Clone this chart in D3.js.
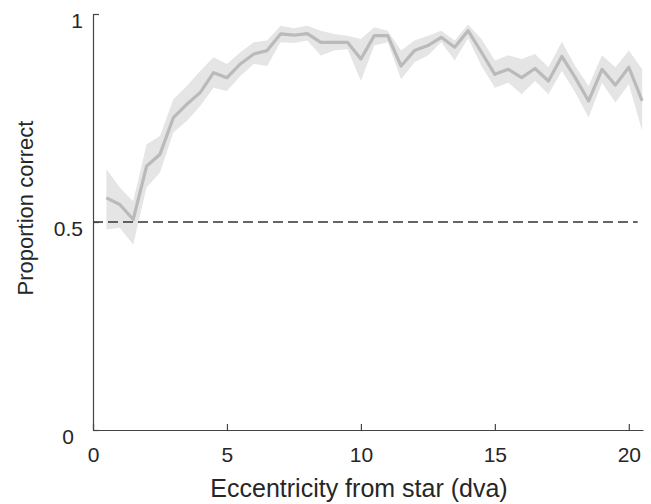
<!DOCTYPE html>
<html lang="en">

<head>
    <meta charset="utf-8">
    <title>Proportion correct vs eccentricity</title>

    <script src="https://d3js.org/d3.v7.min.js"></script>

    <style>
        body {
            margin: 0;
            background: #fff;
        }

        #chart text {
            font-family: "Liberation Sans", Arial, Helvetica, sans-serif;
            fill: #262626;
        }

        .axis path,
        .axis line {
            stroke: #444;
            stroke-width: 1.2;
        }
    </style>
</head>

<body>

    <svg id="chart"></svg>

    <script type="text/javascript">
        var width = 651;
        var height = 504;

        // eccentricity (dva)
        var ecc = [0.5, 1.0, 1.5, 2.0, 2.5, 3.0, 3.5, 4.0, 4.5, 5.0,
            5.5, 6.0, 6.5, 7.0, 7.5, 8.0, 8.5, 9.0, 9.5, 10.0,
            10.5, 11.0, 11.5, 12.0, 12.5, 13.0, 13.5, 14.0, 14.5, 15.0,
            15.5, 16.0, 16.5, 17.0, 17.5, 18.0, 18.5, 19.0, 19.5, 20.0, 20.5];

        // mean proportion correct
        var meanCorrect = [0.558, 0.542, 0.506, 0.634, 0.663, 0.751, 0.783, 0.811, 0.859, 0.847,
            0.880, 0.904, 0.912, 0.952, 0.949, 0.953, 0.932, 0.932, 0.932, 0.892,
            0.948, 0.948, 0.875, 0.912, 0.924, 0.944, 0.920, 0.960, 0.908, 0.855,
            0.867, 0.847, 0.869, 0.839, 0.898, 0.847, 0.791, 0.867, 0.829, 0.872, 0.791];

        // error band
        var upper = [0.627, 0.583, 0.550, 0.687, 0.707, 0.795, 0.827, 0.863, 0.896, 0.880,
            0.908, 0.932, 0.936, 0.972, 0.966, 0.972, 0.960, 0.952, 0.948, 0.940,
            0.968, 0.960, 0.912, 0.936, 0.948, 0.960, 0.936, 0.975, 0.940, 0.888,
            0.901, 0.892, 0.904, 0.872, 0.933, 0.875, 0.827, 0.901, 0.872, 0.912, 0.867];
        var lower = [0.482, 0.486, 0.446, 0.583, 0.619, 0.715, 0.743, 0.779, 0.823, 0.815,
            0.851, 0.880, 0.875, 0.932, 0.930, 0.936, 0.900, 0.912, 0.916, 0.839,
            0.924, 0.932, 0.843, 0.884, 0.900, 0.932, 0.888, 0.942, 0.875, 0.823,
            0.835, 0.807, 0.839, 0.807, 0.863, 0.811, 0.751, 0.835, 0.787, 0.831, 0.719];

        var xTicks = [0, 5, 10, 15, 20];
        var yTicks = [0, 0.5, 1];
        var chance = 0.5;

        var svg = d3.select("#chart")
            .attr("width", width)
            .attr("height", height);

        var xScale = d3.scaleLinear()
            .domain([0, 20.53])
            .range([93, 643]);

        var yScale = d3.scaleLinear()
            .domain([0, 1])
            .range([430, 14]);

        var data = ecc.map(function(x, i) {
            return { x: x, m: meanCorrect[i], lo: lower[i], hi: upper[i] };
        });

        // shaded band
        var area = d3.area()
            .x(function(d) { return xScale(d.x); })
            .y0(function(d) { return yScale(d.lo); })
            .y1(function(d) { return yScale(d.hi); });

        svg.append("path")
            .datum(data)
            .attr("d", area)
            .attr("fill", "#e5e5e5");

        // mean line
        var line = d3.line()
            .x(function(d) { return xScale(d.x); })
            .y(function(d) { return yScale(d.m); });

        svg.append("path")
            .datum(data)
            .attr("d", line)
            .attr("fill", "none")
            .attr("stroke", "#bababa")
            .attr("stroke-width", 3.2)
            .attr("stroke-linejoin", "round");

        // chance level
        svg.append("line")
            .attr("x1", xScale(0))
            .attr("x2", xScale(20.33))
            .attr("y1", yScale(chance))
            .attr("y2", yScale(chance))
            .attr("stroke", "#333")
            .attr("stroke-width", 1.5)
            .attr("stroke-dasharray", "10,5");

        // axes (ticks pointing inward)
        var xAxis = d3.axisBottom(xScale)
            .tickValues(xTicks)
            .tickFormat(d3.format("d"))
            .tickSizeInner(-6)
            .tickSizeOuter(0)
            .tickPadding(14);

        var yAxis = d3.axisLeft(yScale)
            .tickValues(yTicks)
            .tickFormat(function(d) { return d === 0.5 ? "0.5" : d3.format("d")(d); })
            .tickSizeInner(-6)
            .tickSizeOuter(0)
            .tickPadding(10);

        var gx = svg.append("g")
            .attr("class", "axis")
            .attr("transform", "translate(0," + yScale(0) + ")")
            .call(xAxis);

        gx.selectAll("text")
            .attr("font-size", 21)
            .attr("dy", "0.95em")
            .attr("y", 12);

        var gy = svg.append("g")
            .attr("class", "axis")
            .attr("transform", "translate(" + xScale(0) + ",0)")
            .call(yAxis);

        gy.selectAll("text")
            .attr("font-size", 21)
            .attr("dy", "0.65em");

        gy.selectAll(".tick")
            .filter(function(d) { return d === 0; })
            .select("text")
            .attr("x", -19);

        gx.selectAll(".domain, .tick line").attr("stroke", "#444");
        gy.selectAll(".domain, .tick line").attr("stroke", "#444");
        gx.selectAll("text").attr("fill", "#262626");
        gy.selectAll("text").attr("fill", "#262626");

        // axis titles
        svg.append("text")
            .attr("x", 359)
            .attr("y", 497)
            .attr("text-anchor", "middle")
            .attr("font-size", 25)
            .text("Eccentricity from star (dva)");

        svg.append("text")
            .attr("transform", "translate(33,208) rotate(-90)")
            .attr("text-anchor", "middle")
            .attr("font-size", 22)
            .text("Proportion correct");
    </script>
</body>

</html>
